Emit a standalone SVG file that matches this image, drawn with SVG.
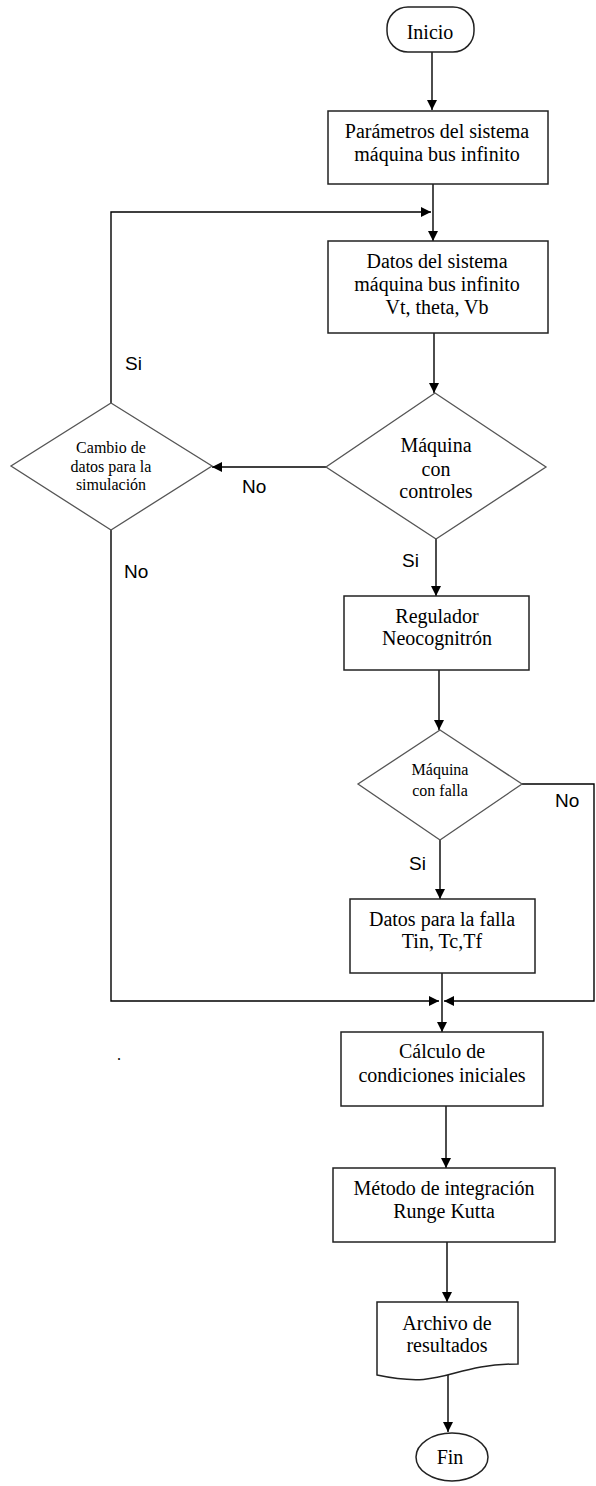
<svg xmlns="http://www.w3.org/2000/svg" width="596" height="1486" viewBox="0 0 596 1486">
<defs>
<marker id="ah" viewBox="0 0 10 10" refX="10" refY="5" markerWidth="10" markerHeight="10" markerUnits="userSpaceOnUse" orient="auto">
<path d="M0,0 L10,5 L0,10 Z" fill="#000"/>
</marker>
<style>
.box{fill:#fff;stroke:#222;stroke-width:1.5}
.dia{fill:#fff;stroke:#555;stroke-width:1.3}
.t{font-family:"Liberation Serif","Times New Roman",serif;font-size:20px;fill:#000;text-anchor:middle}
.ts{font-family:"Liberation Serif","Times New Roman",serif;font-size:16px;fill:#000;text-anchor:middle}
.lbl{font-family:"Liberation Sans",Arial,sans-serif;font-size:19px;fill:#000}
.c{fill:none;stroke:#000;stroke-width:1.4}
.ca{fill:none;stroke:#000;stroke-width:1.4;marker-end:url(#ah)}
</style>
</defs>
<rect width="596" height="1486" fill="#fff"/>

<g id="connectors">
<path class="ca" d="M432,52 V110"/>
<path class="ca" d="M433,184 V241"/>
<path class="ca" d="M111,403 V212 H431"/>
<path class="ca" d="M434,333 V393"/>
<path class="ca" d="M326,467 H212"/>
<path class="ca" d="M436,539 V596"/>
<path class="ca" d="M439,670 V730"/>
<path class="ca" d="M440,840 V899"/>
<path class="ca" d="M522,784 H594 V1001 H444"/>
<path class="ca" d="M111,530 V1001 H439"/>
<path class="ca" d="M442,973 V1032"/>
<path class="ca" d="M446,1106 V1168"/>
<path class="ca" d="M447,1242 V1302"/>
<path class="ca" d="M448,1375 V1432"/>
<text class="lbl" x="125" y="370">Si</text>
<text class="lbl" x="242" y="493">No</text>
<text class="lbl" x="124" y="578">No</text>
<text class="lbl" x="402" y="567">Si</text>
<text class="lbl" x="555" y="807">No</text>
<text class="lbl" x="409" y="870">Si</text>
</g>

<g id="inicio">
<rect x="387" y="7" width="87" height="45" rx="21" ry="21" class="box" stroke-width="1.3"/>
<text class="t" x="430" y="39">Inicio</text>
</g>

<g id="parametros">
<rect x="328" y="111" width="220" height="73" class="box"/>
<text class="t" x="437" y="138">Parámetros del sistema</text>
<text class="t" x="437" y="161">máquina bus infinito</text>
</g>

<g id="datos">
<rect x="328" y="241" width="220" height="92" class="box"/>
<text class="t" x="437" y="268">Datos del sistema</text>
<text class="t" x="437" y="291">máquina bus infinito</text>
<text class="t" x="437" y="314">Vt, theta, Vb</text>
</g>

<g id="controles">
<polygon points="435,393 546,467 436,539 326,467" class="dia"/>
<text class="t" x="436" y="452">Máquina</text>
<text class="t" x="436" y="476">con</text>
<text class="t" x="436" y="498">controles</text>
</g>

<g id="cambio">
<polygon points="111,403 212,466 111,530 11,466" class="dia"/>
<text class="ts" x="111" y="453">Cambio de</text>
<text class="ts" x="111" y="472">datos para la</text>
<text class="ts" x="111" y="490">simulación</text>
</g>

<g id="regulador">
<rect x="344" y="596" width="185" height="74" class="box"/>
<text class="t" x="437" y="623">Regulador</text>
<text class="t" x="437" y="645">Neocognitrón</text>
</g>

<g id="falla">
<polygon points="440,730 522,784 440,840 358,784" class="dia"/>
<text class="ts" x="440" y="775">Máquina</text>
<text class="ts" x="440" y="796">con falla</text>
</g>

<g id="datosfalla">
<rect x="350" y="899" width="185" height="74" class="box"/>
<text class="t" x="442" y="926">Datos para la falla</text>
<text class="t" x="442" y="948">Tin, Tc,Tf</text>
</g>

<g id="calculo">
<rect x="341" y="1032" width="202" height="74" class="box"/>
<text class="t" x="442" y="1058">Cálculo de</text>
<text class="t" x="442" y="1082">condiciones iniciales</text>
</g>

<g id="metodo">
<rect x="333" y="1168" width="222" height="74" class="box"/>
<text class="t" x="444" y="1195">Método de integración</text>
<text class="t" x="444" y="1218">Runge Kutta</text>
</g>

<g id="archivo">
<path d="M377,1302 H518 V1364 C447.5,1364 447.5,1390 377,1375 Z" class="box"/>
<text class="t" x="447" y="1330">Archivo de</text>
<text class="t" x="447" y="1352">resultados</text>
</g>

<g id="fin">
<ellipse cx="452" cy="1457" rx="36" ry="24" class="box" stroke-width="1.3"/>
<text class="t" x="450" y="1464">Fin</text>
</g>

<text class="ts" x="119" y="1060">.</text>
</svg>
